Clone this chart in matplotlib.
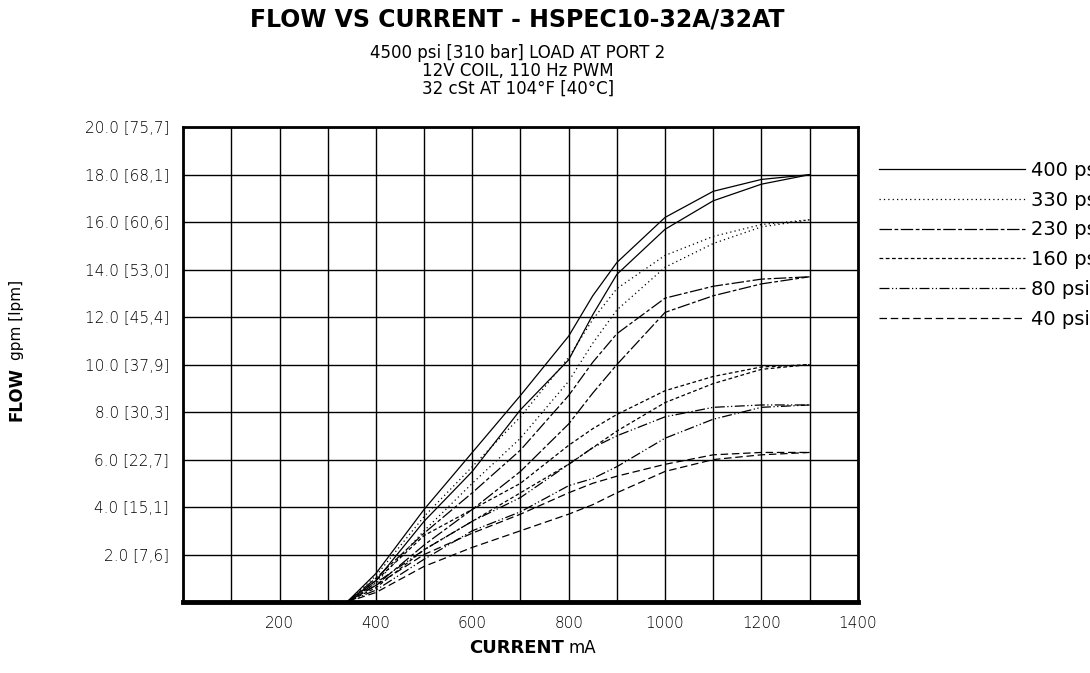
import matplotlib
matplotlib.use("Agg")
import matplotlib.pyplot as plt

current = [340, 400, 500, 600, 700, 800, 850, 900, 1000, 1100, 1200, 1300]

# each pressure has two curves (rising / falling current)
psi_labels = ["400 psi", "330 psi", "230 psi", "160 psi", "80 psi", "40 psi"]
upper = [
    [0, 1.2, 3.9, 6.3, 8.7, 11.2, 12.9, 14.3, 16.2, 17.3, 17.8, 18.0],
    [0, 1.1, 3.6, 5.7, 7.8, 10.3, 11.9, 13.2, 14.6, 15.4, 15.9, 16.1],
    [0, 1.0, 2.9, 4.6, 6.4, 8.7, 10.1, 11.3, 12.8, 13.3, 13.6, 13.7],
    [0, 0.9, 2.8, 3.9, 5.0, 6.6, 7.3, 7.9, 8.9, 9.5, 9.9, 10.0],
    [0, 0.8, 2.2, 3.4, 4.4, 5.8, 6.5, 7.0, 7.8, 8.2, 8.3, 8.3],
    [0, 0.7, 2.0, 2.9, 3.7, 4.6, 5.0, 5.3, 5.8, 6.2, 6.3, 6.3],
]
lower = [
    [0, 0.9, 3.4, 5.5, 8.1, 10.2, 12.1, 13.8, 15.7, 16.9, 17.6, 18.0],
    [0, 0.8, 3.0, 5.0, 6.9, 9.3, 10.9, 12.3, 14.1, 15.1, 15.8, 16.1],
    [0, 0.7, 2.4, 3.9, 5.5, 7.5, 8.8, 10.0, 12.2, 12.9, 13.4, 13.7],
    [0, 0.6, 2.2, 3.4, 4.6, 5.8, 6.5, 7.2, 8.4, 9.2, 9.8, 10.0],
    [0, 0.5, 1.8, 3.0, 3.8, 4.9, 5.2, 5.7, 6.9, 7.7, 8.2, 8.3],
    [0, 0.4, 1.5, 2.3, 3.0, 3.7, 4.1, 4.6, 5.5, 6.0, 6.2, 6.3],
]
styles = ["-", (0, (1, 2.5)), (0, (10, 2, 3, 2)), (0, (3, 2)),
          (0, (8, 2, 1, 2, 1, 2)), (0, (6, 3))]

yticks = [2, 4, 6, 8, 10, 12, 14, 16, 18, 20]
ylabels = ["2.0 [7,6]", "4.0 [15,1]", "6.0 [22,7]", "8.0 [30,3]", "10.0 [37,9]",
           "12.0 [45,4]", "14.0 [53,0]", "16.0 [60,6]", "18.0 [68,1]", "20.0 [75,7]"]
xticks = [200, 400, 600, 800, 1000, 1200, 1400]

plt.rcParams['font.family'] = ['DejaVu Sans']
fig = plt.figure(figsize=(10.9, 6.73), dpi=100)
ax = fig.add_axes([0.168, 0.1055, 0.619, 0.7055])

for i in range(len(psi_labels)):
    ax.plot(current, upper[i], color="black", lw=0.9, linestyle=styles[i], label=psi_labels[i])
    ax.plot(current, lower[i], color="black", lw=0.9, linestyle=styles[i])

ax.set_xlim(0, 1400)
ax.set_ylim(0, 20)
ax.set_xticks(range(0, 1401, 100))
ax.set_xticklabels(["" if v not in xticks else str(v) for v in range(0, 1401, 100)])
ax.set_yticks([0] + yticks)
ax.set_yticklabels([""] + ylabels)
ax.tick_params(length=0, labelsize=11, pad=10)
for lab in ax.get_xticklabels() + ax.get_yticklabels():
    lab.set_fontweight("light")
ax.grid(True, color="black", lw=1)
for s in ax.spines.values():
    s.set_linewidth(2)
ax.spines["bottom"].set_linewidth(3.5)

fig.text(0.517, 0.03, "CURRENT", ha="right", fontsize=13, fontweight="bold")
fig.text(0.522, 0.03, "mA", ha="left", fontsize=12)
fig.text(0.015, 0.455, "FLOW", ha="center", va="top", rotation=90, fontsize=12, fontweight="bold")
fig.text(0.015, 0.465, "gpm [lpm]", ha="center", va="bottom", rotation=90, fontsize=11)

fig.text(0.475, 0.96, "FLOW VS CURRENT - HSPEC10-32A/32AT", ha="center",
         fontsize=17, fontweight="bold")
fig.text(0.475, 0.935, "4500 psi [310 bar] LOAD AT PORT 2\n12V COIL, 110 Hz PWM\n32 cSt AT 104°F [40°C]",
         ha="center", va="top", fontsize=12, linespacing=1.0)

ax.legend(loc="upper left", bbox_to_anchor=(1.02, 0.945), frameon=False,
          handlelength=7.5, fontsize=14, labelspacing=0.55, handletextpad=0.3,
          borderaxespad=0)

fig.savefig("out.png", dpi=100)
